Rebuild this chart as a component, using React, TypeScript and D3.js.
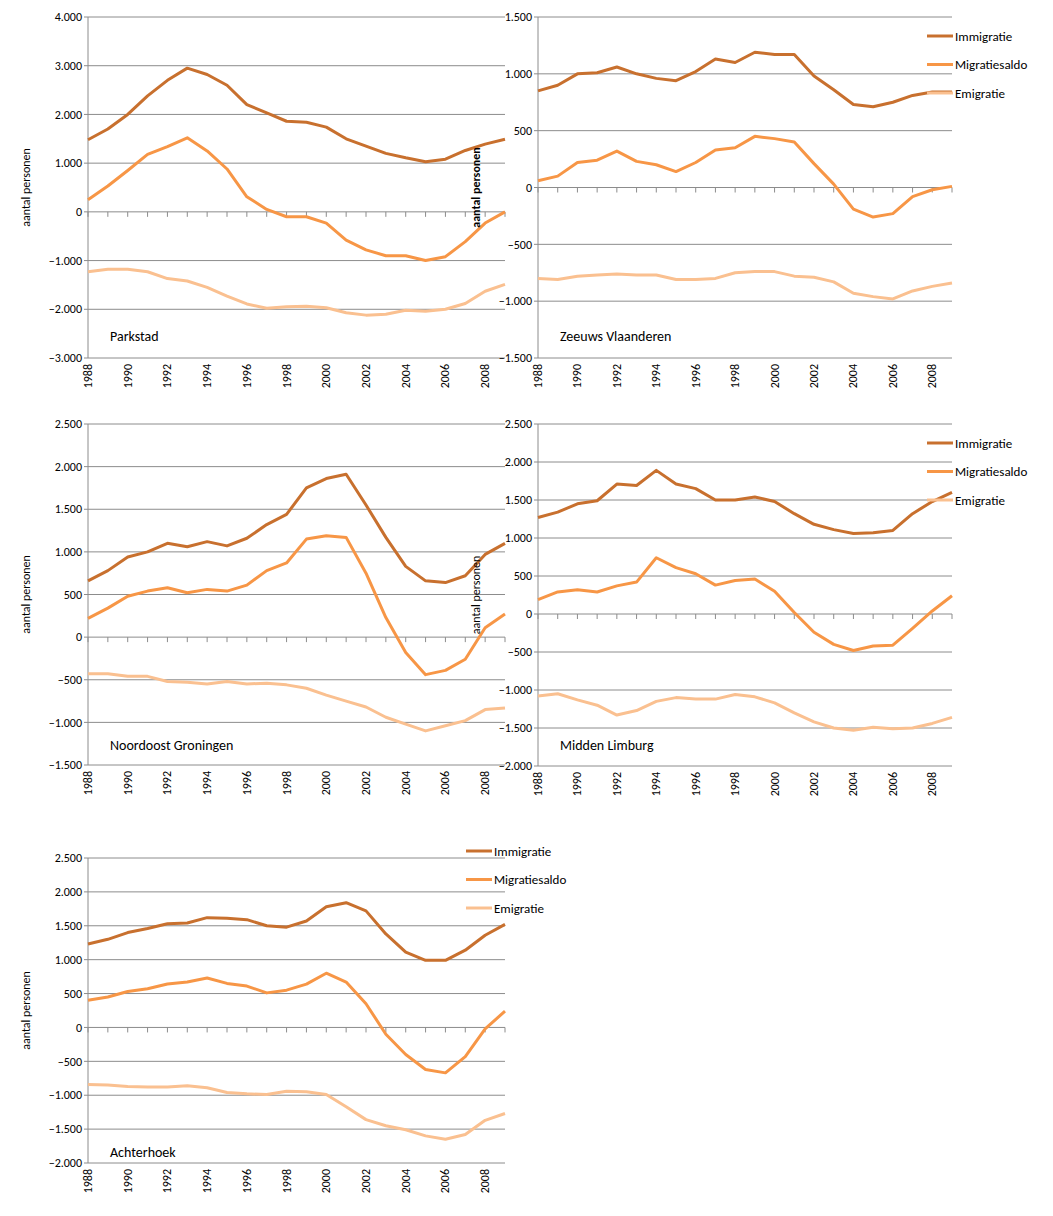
import * as d3 from 'd3'

const years = d3.range(1988, 2010)
const seriesNames = ['Immigratie', 'Migratiesaldo', 'Emigratie']
const colors = ['#C8702E', '#F79646', '#FAC090']

const parkstad = [
  [1480, 1700, 2000, 2380, 2700, 2950, 2820, 2600, 2200, 2030, 1860, 1840, 1740, 1500, 1350, 1200, 1110, 1030, 1080, 1260, 1390, 1490],
  [250, 530, 850, 1180, 1340, 1520, 1250, 880, 310, 50, -100, -100, -230, -580, -780, -900, -900, -1000, -920, -610, -230, 0],
  [-1230, -1180, -1180, -1230, -1370, -1420, -1550, -1730, -1890, -1980, -1950, -1940, -1970, -2070, -2120, -2100, -2020, -2040, -2000, -1880, -1630, -1490],
]
const zeeuws = [
  [850, 900, 1000, 1010, 1060, 1000, 960, 940, 1020, 1130, 1100, 1190, 1170, 1170, 980, 860, 730, 710, 750, 810, 840, 840],
  [60, 100, 220, 240, 320, 230, 200, 140, 220, 330, 350, 450, 430, 400, 210, 30, -190, -260, -230, -80, -20, 10],
  [-800, -810, -780, -770, -760, -770, -770, -810, -810, -800, -750, -740, -740, -780, -790, -830, -930, -960, -980, -910, -870, -840],
]
const groningen = [
  [660, 780, 940, 1000, 1100, 1060, 1120, 1070, 1160, 1320, 1440, 1750, 1860, 1910, 1550, 1170, 830, 660, 640, 720, 970, 1100],
  [220, 340, 480, 540, 580, 520, 560, 540, 610, 780, 870, 1150, 1190, 1170, 750, 230, -180, -440, -390, -260, 110, 270],
  [-430, -430, -460, -460, -520, -530, -550, -520, -550, -540, -560, -600, -680, -750, -820, -940, -1020, -1100, -1040, -980, -850, -830],
]
const limburg = [
  [1270, 1340, 1450, 1490, 1710, 1690, 1890, 1710, 1650, 1500, 1500, 1540, 1480, 1320, 1180, 1110, 1060, 1070, 1100, 1320, 1480, 1600],
  [190, 290, 320, 290, 370, 420, 740, 610, 530, 380, 440, 460, 300, 20, -240, -400, -480, -420, -410, -190, 40, 240],
  [-1080, -1050, -1130, -1200, -1330, -1270, -1150, -1100, -1120, -1120, -1060, -1090, -1170, -1300, -1420, -1500, -1530, -1490, -1510, -1500, -1440, -1360],
]
const achterhoek = [
  [1230, 1300, 1400, 1460, 1530, 1540, 1620, 1610, 1590, 1500, 1480, 1570, 1780, 1840, 1720, 1380, 1110, 990, 990, 1140, 1360, 1520],
  [400, 450, 530, 570, 640, 670, 730, 650, 610, 510, 550, 640, 800, 670, 350, -100, -400, -620, -670, -430, -20, 240],
  [-840, -850, -870, -880, -880, -860, -890, -960, -980, -990, -940, -950, -990, -1170, -1360, -1450, -1510, -1600, -1650, -1580, -1370, -1270],
]

const fmt = (v: number) => d3.format(',')(v).replace(/,/g, '.')
const font = 'Carlito, "Liberation Sans", Arial, sans-serif'

type PanelProps = {
  data: number[][]
  title: string
  x0: number; x1: number; y0: number; y1: number
  yMax: number; yMin: number; step: number
  titleOff: number
  legend?: [number, number]
  boldLabel?: boolean
}

function Panel({ data, title, x0, x1, y0, y1, yMax, yMin, step, titleOff, legend, boldLabel }: PanelProps) {
  const x = d3.scaleLinear([years[0], years[years.length - 1]], [x0, x1])
  const y = d3.scaleLinear([yMin, yMax], [y1, y0])
  const ticks = d3.range(yMin, yMax + 1, step)
  const line = d3.line<number>().x((_, i) => x(years[i])).y((d) => y(d))
  return (
    <g fontFamily={font} fontSize={12}>
      {ticks.map((t) => (
        <g key={t}>
          {t !== 0 && <line x1={x0} x2={x1} y1={y(t)} y2={y(t)} stroke="#8c8c8c" strokeWidth={1} />}
          <line x1={x0 - 4} x2={x0} y1={y(t)} y2={y(t)} stroke="#8c8c8c" />
          <text x={x0 - 6} y={y(t)} dy="0.35em" textAnchor="end">{fmt(t)}</text>
        </g>
      ))}
      <line x1={x0} x2={x0} y1={y0} y2={y1} stroke="#8c8c8c" />
      <line x1={x0} x2={x1} y1={y(0)} y2={y(0)} stroke="#8c8c8c" />
      {years.map((yr) => (
        <line key={yr} x1={x(yr)} x2={x(yr)} y1={y(0)} y2={y(0) + 5} stroke="#8c8c8c" />
      ))}
      {years.filter((yr) => yr % 2 === 0).map((yr) => (
        <text key={yr} transform={`translate(${x(yr) + 4},${y1 + 6}) rotate(-90)`} textAnchor="end">{yr}</text>
      ))}
      <text transform={`translate(${x0 - 58},${(y0 + y1) / 2}) rotate(-90)`} textAnchor="middle" fontWeight={boldLabel ? 'bold' : 'normal'}>aantal personen</text>
      {data.map((s, i) => (
        <path key={i} d={line(s) || undefined} fill="none" stroke={colors[i]} strokeWidth={3} strokeLinejoin="round" />
      ))}
      <text x={x0 + 22} y={y1 - titleOff} fontSize={14}>{title}</text>
      {legend && seriesNames.map((n, i) => (
        <g key={n}>
          <line x1={legend[0]} x2={legend[0] + 26} y1={legend[1] + i * 28.5} y2={legend[1] + i * 28.5} stroke={colors[i]} strokeWidth={3} />
          <text x={legend[0] + 28} y={legend[1] + i * 28.5} dy="0.35em" fontSize={13}>{n}</text>
        </g>
      ))}
    </g>
  )
}

export default function App() {
  return (
    <svg width={1053} height={1216} style={{ position: 'absolute', left: 0, top: 0 }}>
      <rect width={1053} height={1216} fill="white" />
      <Panel data={parkstad} title="Parkstad" x0={88} x1={505} y0={17} y1={358} yMax={4000} yMin={-3000} step={1000} titleOff={17} />
      <Panel data={zeeuws} title="Zeeuws Vlaanderen" x0={538} x1={952} y0={17} y1={358} yMax={1500} yMin={-1500} step={500} titleOff={17} legend={[927, 36]} boldLabel />
      <Panel data={groningen} title="Noordoost Groningen" x0={88} x1={505} y0={424} y1={765} yMax={2500} yMin={-1500} step={500} titleOff={15} />
      <Panel data={limburg} title="Midden Limburg" x0={538} x1={952} y0={424} y1={766} yMax={2500} yMin={-2000} step={500} titleOff={16} legend={[927, 443]} />
      <Panel data={achterhoek} title="Achterhoek" x0={88} x1={505} y0={858} y1={1163} yMax={2500} yMin={-2000} step={500} titleOff={6} legend={[466, 851]} />
    </svg>
  )
}
